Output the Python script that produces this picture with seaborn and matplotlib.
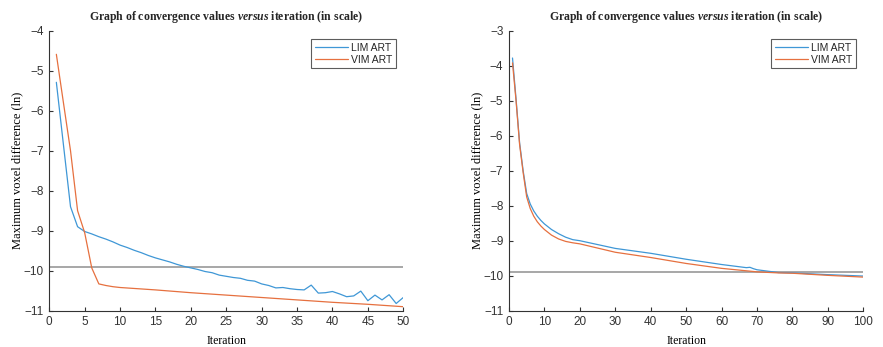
import matplotlib
matplotlib.use('Agg')
import matplotlib.pyplot as plt
import seaborn as sns
import pandas as pd

# left panel: 50 iterations
left_iter = list(range(1, 51))
left_lim = [-5.29, -6.85, -8.40, -8.90, -9.02, -9.08, -9.15, -9.21, -9.28, -9.36,
            -9.42, -9.49, -9.55, -9.62, -9.68, -9.73, -9.78, -9.84, -9.89, -9.93,
            -9.97, -10.02, -10.05, -10.11, -10.14, -10.17, -10.19, -10.24, -10.26, -10.33,
            -10.37, -10.43, -10.42, -10.45, -10.47, -10.48, -10.36, -10.56, -10.55, -10.52,
            -10.58, -10.65, -10.63, -10.51, -10.75, -10.61, -10.73, -10.60, -10.82, -10.67]
left_vim_iter = [1, 2, 3, 4, 5, 6, 7, 8, 9, 10, 15, 20, 25, 30, 35, 40, 45, 50]
left_vim = [-4.59, -5.80, -7.00, -8.50, -9.05, -9.93, -10.33, -10.37, -10.40, -10.42,
            -10.48, -10.55, -10.61, -10.67, -10.73, -10.79, -10.84, -10.90]

# right panel: 100 iterations
right_iter = [1, 2, 3, 4, 5, 6, 7, 8, 9, 10, 12, 14, 16, 18, 20, 30, 40, 50, 60, 67, 68, 69, 70, 76, 80, 90, 100]
right_lim = [-3.78, -4.95, -6.20, -7.00, -7.65, -7.95, -8.15, -8.30, -8.42, -8.52,
             -8.68, -8.80, -8.90, -8.97, -9.00, -9.22, -9.36, -9.53, -9.68, -9.77,
             -9.76, -9.80, -9.83, -9.91, -9.92, -9.97, -10.01]
right_vim = [-3.92, -5.00, -6.25, -7.05, -7.75, -8.08, -8.30, -8.46, -8.58, -8.68,
             -8.84, -8.95, -9.02, -9.06, -9.09, -9.33, -9.48, -9.65, -9.79, -9.86,
             -9.87, -9.88, -9.89, -9.92, -9.93, -9.99, -10.04]

threshold = -9.9
series = ['LIM ART', 'VIM ART']
colors = {'LIM ART': '#3f97d6', 'VIM ART': '#e6703f'}

left_df = pd.concat([
    pd.DataFrame({'Iteration': left_iter, 'value': left_lim, 'Method': 'LIM ART'}),
    pd.DataFrame({'Iteration': left_vim_iter, 'value': left_vim, 'Method': 'VIM ART'}),
])
right_df = pd.concat([
    pd.DataFrame({'Iteration': right_iter, 'value': right_lim, 'Method': 'LIM ART'}),
    pd.DataFrame({'Iteration': right_iter, 'value': right_vim, 'Method': 'VIM ART'}),
])

sns.set_theme(style="white")
plt.rcParams['font.family'] = ['Liberation Sans', 'DejaVu Sans']
plt.rcParams['mathtext.fontset'] = 'custom'
plt.rcParams['mathtext.it'] = 'Liberation Serif:italic:bold'
plt.rcParams['mathtext.rm'] = 'Liberation Serif:bold'

fig = plt.figure(figsize=(8.83, 3.47), dpi=100)
ax1 = fig.add_axes([0.0558, 0.1046, 0.4009, 0.8069])
ax2 = fig.add_axes([0.5764, 0.1046, 0.4013, 0.8069])

axc = '#333333'
title = r'Graph of convergence values $\mathit{versus}$ iteration (in scale)'

for ax, df, xmax, xt, ymin, ymax in [(ax1, left_df, 50, range(0, 51, 5), -11, -4),
                                     (ax2, right_df, 100, range(0, 101, 10), -11, -3)]:
    ax.axhline(threshold, color='#a0a0a0', lw=1.3, zorder=1)
    sns.lineplot(data=df, x='Iteration', y='value', hue='Method', hue_order=series,
                 palette=colors, linewidth=0.9, ax=ax, legend=False, zorder=3)
    ax.set_xlim(0, xmax)
    ax.set_ylim(ymin, ymax)
    ax.set_xticks(list(xt))
    ax.set_yticks(range(ymin, ymax + 1))
    for s in ['top', 'right']:
        ax.spines[s].set_visible(False)
    for s in ['left', 'bottom']:
        ax.spines[s].set_color(axc)
        ax.spines[s].set_linewidth(0.8)
    ax.tick_params(direction='in', length=3, width=0.8, colors=axc, labelsize=8.5, pad=4,
                   left=True, bottom=True)
    ax.set_xlabel('Iteration', family='Liberation Serif', fontsize=8.5, color='black', labelpad=5)
    ax.set_ylabel('Maximum voxel difference (ln)', family='Liberation Serif', fontsize=9,
                  color='black', labelpad=0)
    ax.set_title(title, family='Liberation Serif', fontweight='bold', fontsize=8.5, pad=8)
    handles = [plt.Line2D([], [], color=colors[m], lw=0.9) for m in series]
    leg = ax.legend(handles, series, loc='upper right', bbox_to_anchor=(0.98, 0.97),
                    fontsize=7.5, frameon=True, fancybox=False, handlelength=3.2,
                    handletextpad=0.3, borderpad=0.35, labelspacing=0.2, borderaxespad=0)
    leg.get_frame().set_edgecolor(axc)
    leg.get_frame().set_linewidth(0.8)

plt.savefig('out.png', dpi=100)
